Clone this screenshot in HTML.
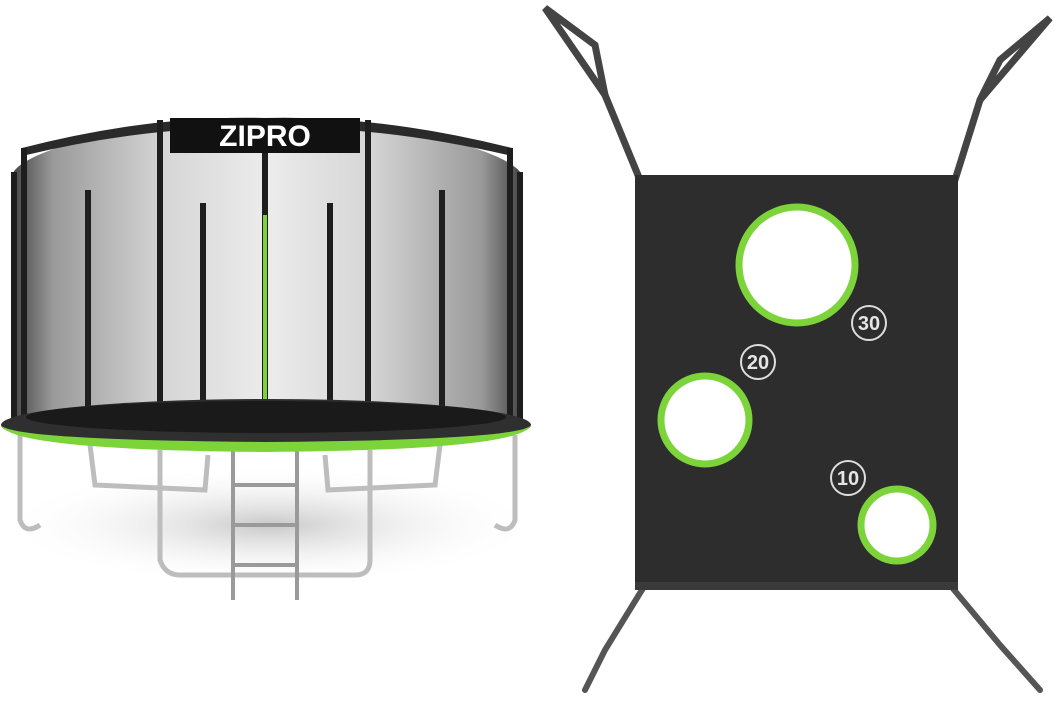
<!DOCTYPE html>
<html><head><meta charset="utf-8"><style>html,body{margin:0;padding:0;background:#fff}svg{display:block}</style></head>
<body>
<svg width="1064" height="717" viewBox="0 0 1064 717" xmlns="http://www.w3.org/2000/svg">
<defs>
<linearGradient id="net" x1="0" x2="1" y1="0" y2="0">
<stop offset="0" stop-color="#444"/><stop offset="0.08" stop-color="#9a9a9a"/><stop offset="0.3" stop-color="#d6d6d6"/><stop offset="0.5" stop-color="#ececec"/><stop offset="0.7" stop-color="#d6d6d6"/><stop offset="0.92" stop-color="#9a9a9a"/><stop offset="1" stop-color="#444"/>
</linearGradient>
<radialGradient id="sh" cx="0.5" cy="0.5" r="0.5"><stop offset="0" stop-color="#c8c8c8"/><stop offset="1" stop-color="#fff" stop-opacity="0"/></radialGradient>
</defs>
<ellipse cx="270" cy="525" rx="270" ry="60" fill="url(#sh)"/>
<g stroke="#bdbdbd" stroke-width="5" fill="none">
<path d="M20 435 L20 520 Q25 535 40 525"/>
<path d="M515 435 L515 520 Q510 535 495 525"/>
<path d="M90 445 L95 485 L205 490 L208 455"/>
<path d="M325 455 L328 490 L435 485 L440 445"/>
<path d="M160 450 L160 560 Q165 575 180 575 L355 575 Q370 575 370 560 L370 450"/>
</g>
<g stroke="#9a9a9a" stroke-width="4">
<line x1="233" y1="440" x2="233" y2="600"/><line x1="297" y1="440" x2="297" y2="600"/>
<line x1="233" y1="485" x2="297" y2="485"/><line x1="233" y1="525" x2="297" y2="525"/><line x1="233" y1="565" x2="297" y2="565"/>
</g>
<path d="M12 175 Q20 150 160 122 L370 122 Q510 150 522 175 L522 425 L12 425 Z" fill="url(#net)"/>
<path d="M22 148 Q150 115 265 118 Q380 115 512 148 L512 156 Q380 125 265 128 Q150 125 22 156 Z" fill="#2a2a2a"/>
<g stroke="#1e1e1e" stroke-width="6">
<line x1="14" y1="172" x2="14" y2="420"/><line x1="24" y1="148" x2="24" y2="420"/>
<line x1="88" y1="190" x2="88" y2="415"/><line x1="160" y1="120" x2="160" y2="425"/>
<line x1="203" y1="203" x2="203" y2="420"/><line x1="330" y1="203" x2="330" y2="420"/>
<line x1="368" y1="120" x2="368" y2="425"/><line x1="442" y1="190" x2="442" y2="415"/>
<line x1="510" y1="148" x2="510" y2="420"/><line x1="520" y1="172" x2="520" y2="420"/>
<line x1="265" y1="150" x2="265" y2="440"/>
</g>
<line x1="265" y1="215" x2="265" y2="420" stroke="#7cd43a" stroke-width="4"/>
<rect x="170" y="118" width="190" height="35" fill="#111"/>
<text x="265" y="146" text-anchor="middle" font-family="Liberation Sans, sans-serif" font-weight="bold" font-size="30" fill="#fff">ZIPRO</text>
<ellipse cx="266" cy="425" rx="265" ry="26" fill="#2f2f2f"/>
<ellipse cx="266" cy="417" rx="240" ry="16" fill="#1a1a1a"/>
<path d="M1 425 Q10 450 266 452 Q522 450 531 425 Q522 440 266 442 Q10 440 1 425Z" fill="#7cd43a"/>
<g stroke="#444" stroke-width="7" fill="none" stroke-linecap="round">
<path d="M640 180 L605 95"/><path d="M605 95 L545 8 L595 45 L605 95"/>
<path d="M955 180 L980 100"/><path d="M980 100 L1050 18 L1000 60 L980 100"/>
</g>
<g stroke="#555" stroke-width="6" fill="none" stroke-linecap="round">
<path d="M645 585 L605 650 L585 690"/>
<path d="M950 585 L1000 645 L1040 690"/>
</g>
<rect x="635" y="175" width="323" height="415" fill="#2d2d2d"/>
<rect x="635" y="582" width="323" height="8" fill="#3a3a3a"/>
<g fill="#fff" stroke="#7cd43a" stroke-width="7">
<circle cx="797" cy="265" r="58"/>
<circle cx="705" cy="420" r="44"/>
<circle cx="897" cy="525" r="36"/>
</g>
<g fill="#2d2d2d" stroke="#ddd" stroke-width="2">
<circle cx="869" cy="323" r="17"/><circle cx="758" cy="362" r="17"/><circle cx="848" cy="478" r="17"/>
</g>
<g font-family="Liberation Sans, sans-serif" font-weight="bold" font-size="20" fill="#e5e5e5" text-anchor="middle">
<text x="869" y="330">30</text><text x="758" y="369">20</text><text x="848" y="485">10</text>
</g>
</svg>
</body></html>
